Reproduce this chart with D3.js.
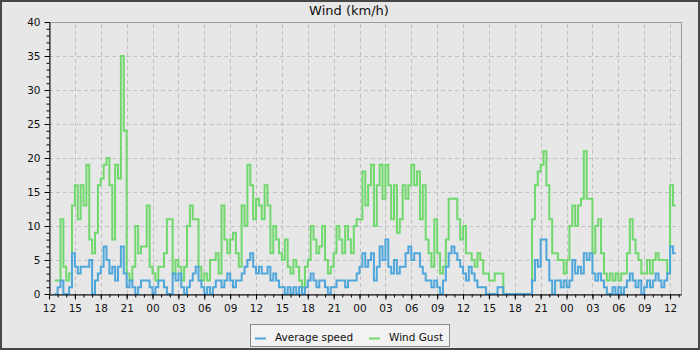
<!DOCTYPE html>
<html>
<head>
<meta charset="utf-8">
<script src="https://cdn.jsdelivr.net/npm/d3@7"></script>
<style>
  body { margin: 0; background: #fff; }
  svg { display: block; font-family: "DejaVu Sans", sans-serif; }
</style>
</head>
<body>
<svg id="chart" width="700" height="350"></svg>
<script>
// readings every 20 minutes, first one at 12:40 on day 1
var firstReading = new Date(2024, 0, 1, 12, 40);
var stepMinutes = 20;

var windGust = [
  2,
  2, 11, 4,   2, 3, 13,   16, 11, 16,  13, 19, 8,   6, 9, 16,   17, 19, 20,
  16, 8, 19,  17, 35, 24, 3, 2, 4,     10, 6, 7,    7, 13, 4,   3, 2, 4,
  4, 6, 11,   11, 3, 5,   4, 2, 4,     10, 13, 11,  11, 4, 2,   3, 2, 5,
  5, 6, 3,    13, 8, 6,   8, 9, 6,     4, 13, 10,   19, 16, 11, 14, 13, 11,
  16, 13, 6,  10, 8, 6,   5, 8, 4,     3, 5, 4,     2, 1, 4,    5, 10, 8,
  6, 7, 10,   5, 3, 4,    6, 10, 8,    6, 10, 8,    6, 10, 11,  11, 18, 13,
  16, 19, 10, 16, 19, 14, 19, 16, 11,  16, 9, 11,   16, 14, 16, 19, 16, 18,
  11, 16, 8,  6, 4, 11,   6, 3, 4,     8, 14, 14,   14, 11, 8,  10, 6, 6,
  5, 4, 6,    5, 3, 3,    2, 2, 3,     3, 3, 0,     0, 0, 0,    0, 0, 0,
  0, 0, 0,    11, 16, 18, 19, 21, 16,  11, 6, 6,    5, 5, 3,    5, 10, 13,
  10, 13, 14, 21, 14, 14, 6, 10, 11,   6, 3, 2,     3, 2, 3,    2, 3, 3,
  6, 11, 8,   6, 5, 3,    3, 5, 3,     5, 6, 5,     5, 5, 3,    16, 13, 13
];

var avgSpeed = [
  0,
  1, 2, 0,    0, 1, 6,    4, 3, 4,     4, 4, 5,     0, 2, 3,    4, 7, 5,
  3, 4, 2,    4, 7, 3,    1, 2, 1,     0, 1, 2,     2, 2, 1,    0, 1, 2,
  2, 1, 0,    0, 3, 2,    3, 1, 0,     1, 2, 3,     4, 2, 1,    0, 1, 0,
  1, 2, 2,    1, 2, 3,    2, 1, 2,     2, 3, 4,     5, 6, 4,    3, 4, 3,
  3, 4, 2,    3, 2, 1,    1, 0, 1,     0, 1, 0,     1, 0, 1,    2, 3, 2,
  1, 2, 2,    1, 0, 1,    1, 2, 2,     2, 1, 2,     2, 2, 3,    4, 6, 4,
  5, 6, 2,    4, 7, 5,    8, 4, 3,     5, 3, 4,     4, 6, 7,    5, 6, 6,
  4, 3, 2,    2, 1, 2,    1, 0, 2,     4, 6, 7,     6, 5, 4,    3, 2, 4,
  3, 2, 1,    1, 1, 0,    0, 0, 0,     1, 1, 0,     0, 0, 0,    0, 0, 0,
  0, 0, 0,    2, 5, 4,    8, 8, 5,     2, 0, 2,     2, 1, 2,    1, 2, 5,
  3, 4, 3,    6, 5, 6,    3, 2, 3,     2, 1, 0,     0, 1, 0,    1, 0, 1,
  2, 3, 2,    1, 2, 0,    1, 2, 1,     2, 3, 2,     1, 2, 3,    7, 6, 6
];

var yTicks = [0, 5, 10, 15, 20, 25, 30, 35, 40];
var seriesNames = ["Average speed", "Wind Gust"];
var seriesColors = ["#4ea6da", "#70d86c"];

var svg = d3.select("#chart");
var W = 700, H = 350;
var margin = { left: 49, right: 19, top: 22, bottom: 56 };
var fontSize = 10.5;

// background and outer frame
svg.append("rect")
  .attr("x", 1).attr("y", 1)
  .attr("width", W - 2).attr("height", H - 2)
  .attr("fill", "#e7e7e7")
  .attr("stroke", "#474747")
  .attr("stroke-width", 2);

var x = d3.scaleTime()
  .domain([new Date(2024, 0, 1, 12, 0), new Date(2024, 0, 4, 13, 16)])
  .range([margin.left, W - margin.right]);

var y = d3.scaleLinear()
  .domain([0, 40])
  .range([H - margin.bottom, margin.top]);

function toSeries(values) {
  return values.map(function (v, i) {
    return { t: d3.timeMinute.offset(firstReading, i * stepMinutes), v: v };
  });
}

// grid
var grid = svg.append("g")
  .attr("stroke", "#c2c2c2")
  .attr("stroke-dasharray", "4,3")
  .attr("stroke-width", 1);

grid.selectAll(".gx")
  .data(x.ticks(d3.timeHour.every(3)).filter(function (d) { return x(d) > margin.left + 1; }))
  .enter().append("line")
  .attr("x1", function (d) { return Math.round(x(d)) + 0.5; })
  .attr("x2", function (d) { return Math.round(x(d)) + 0.5; })
  .attr("y1", y(0)).attr("y2", y(40));

grid.selectAll(".gy")
  .data(yTicks.slice(1, -1))
  .enter().append("line")
  .attr("x1", x.range()[0]).attr("x2", x.range()[1])
  .attr("y1", function (d) { return Math.round(y(d)) + 0.5; })
  .attr("y2", function (d) { return Math.round(y(d)) + 0.5; });

// plot frame
svg.append("rect")
  .attr("x", margin.left + 0.5).attr("y", margin.top + 0.5)
  .attr("width", x.range()[1] - margin.left)
  .attr("height", y(0) - margin.top)
  .attr("fill", "none")
  .attr("stroke", "#9a9a9a");

// series lines: gust underneath, average on top
var line = d3.line()
  .x(function (d) { return x(d.t); })
  .y(function (d) { return y(d.v); })
  .curve(d3.curveStepAfter);

svg.append("path")
  .datum(toSeries(windGust))
  .attr("d", line)
  .attr("fill", "none")
  .attr("stroke", seriesColors[1])
  .attr("stroke-width", 2);

svg.append("path")
  .datum(toSeries(avgSpeed))
  .attr("d", line)
  .attr("fill", "none")
  .attr("stroke", seriesColors[0])
  .attr("stroke-width", 2);

// axes
var xMinor = svg.append("g")
  .attr("transform", "translate(0," + (y(0) + 0.5) + ")")
  .call(d3.axisBottom(x).ticks(d3.timeHour.every(1)).tickFormat("").tickSize(3));
xMinor.select(".domain").remove();

svg.append("g")
  .attr("transform", "translate(0," + (y(0) + 0.5) + ")")
  .call(d3.axisBottom(x)
    .ticks(d3.timeHour.every(3))
    .tickFormat(d3.timeFormat("%H"))
    .tickSize(5).tickSizeOuter(0).tickPadding(5));

var yMinor = svg.append("g")
  .attr("transform", "translate(" + (margin.left + 0.5) + ",0)")
  .call(d3.axisLeft(y).tickValues(d3.range(0, 41)).tickFormat("").tickSize(3));
yMinor.select(".domain").remove();

svg.append("g")
  .attr("transform", "translate(" + (margin.left + 0.5) + ",0)")
  .call(d3.axisLeft(y).tickValues(yTicks).tickSize(5).tickSizeOuter(0).tickPadding(4));

svg.selectAll(".tick text")
  .attr("font-family", "DejaVu Sans, sans-serif")
  .attr("font-size", fontSize)
  .attr("fill", "#111");

// title
svg.append("text")
  .attr("x", 349).attr("y", 15)
  .attr("text-anchor", "middle")
  .attr("font-size", 13)
  .attr("fill", "#111")
  .text("Wind (km/h)");

// legend
var legend = svg.append("g");
legend.append("rect")
  .attr("x", 250.5).attr("y", 324.5)
  .attr("width", 199).attr("height", 22)
  .attr("fill", "#f2f2f2")
  .attr("stroke", "#8a8a8a");

var legendX = [255, 369];
seriesNames.forEach(function (name, i) {
  legend.append("line")
    .attr("x1", legendX[i]).attr("x2", legendX[i] + 11)
    .attr("y1", 338.5).attr("y2", 338.5)
    .attr("stroke", seriesColors[i])
    .attr("stroke-width", 2);
  legend.append("text")
    .attr("x", legendX[i] + 20).attr("y", 341)
    .attr("font-size", fontSize)
    .attr("fill", "#111")
    .text(name);
});
</script>
</body>
</html>
